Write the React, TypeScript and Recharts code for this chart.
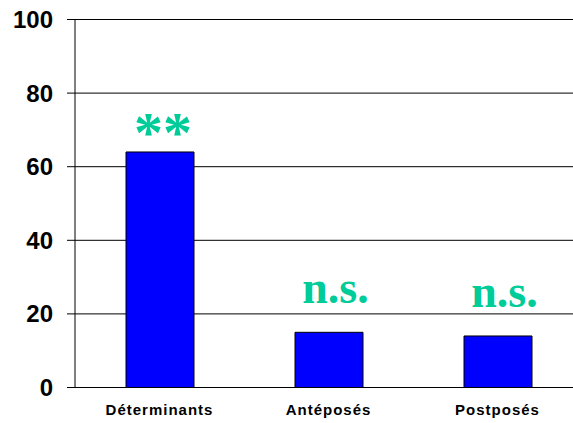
import React from "react";
import { BarChart, Bar, XAxis, YAxis, CartesianGrid, LabelList } from "recharts";

const categories = ["Déterminants", "Antéposés", "Postposés"];
const values = [64, 15, 14];
const significance = ["**", "n.s.", "n.s."];
const yTicks = [0, 20, 40, 60, 80, 100];
const boundaryTicks = [0, 1, 2, 3];

const data = categories.map((c, i) => ({ name: c, value: values[i], sig: significance[i], pos: i + 0.5 }));

const SigLabel = (props: any) => {
  const { x, y, width, value } = props;
  const cx = Number(x) + Number(width) / 2;
  const isStar = value === "**";
  return (
    <text
      x={cx + (isStar ? 3 : 6.5)}
      y={Number(y) - (isStar ? 0 : 29)}
      textAnchor="middle"
      fill="#00CC99"
      fontFamily="'Liberation Serif', 'Times New Roman', serif"
      fontWeight="bold"
      fontSize={isStar ? 58 : 46}
    >
      {value}
    </text>
  );
};

export default function App() {
  return (
    <div style={{ position: "fixed", left: 0, top: 0, width: 573, height: 423, overflow: "hidden", background: "#fff" }}>
      <BarChart
        width={590}
        height={423}
        data={data}
        margin={{ top: 19.5, right: 8, bottom: 0.5, left: 0 }}
        barSize={68}
      >
        <CartesianGrid vertical={false} stroke="#000" strokeDasharray="" />
        <XAxis
          xAxisId="b"
          type="number"
          dataKey="pos"
          domain={[0, 3]}
          ticks={boundaryTicks}
          height={0}
          tickSize={5}
          tickFormatter={() => ""}
          stroke="#000"
          axisLine={{ stroke: "#000" }}
          tickLine={{ stroke: "#000" }}
          allowDataOverflow
        />
        <XAxis
          dataKey="name"
          height={35}
          tickLine={false}
          axisLine={false}
          tickSize={5}
          tickMargin={12}
          interval={0}
          tick={{ fill: "#000", fontSize: 15, fontWeight: "bold", fontFamily: "'Liberation Sans', Arial, sans-serif", letterSpacing: 1 }}
        />
        <YAxis
          width={75}
          domain={[0, 100]}
          ticks={yTicks}
          interval={0}
          tickSize={8}
          tickMargin={14}
          stroke="#000"
          tick={{ fill: "#000", fontSize: 24, fontWeight: "bold", fontFamily: "'Liberation Sans', Arial, sans-serif" }}
        />
        <Bar dataKey="value" fill="#0000FF" stroke="#000" strokeWidth={1} isAnimationActive={false}>
          <LabelList dataKey="sig" content={SigLabel} />
        </Bar>
      </BarChart>
    </div>
  );
}
